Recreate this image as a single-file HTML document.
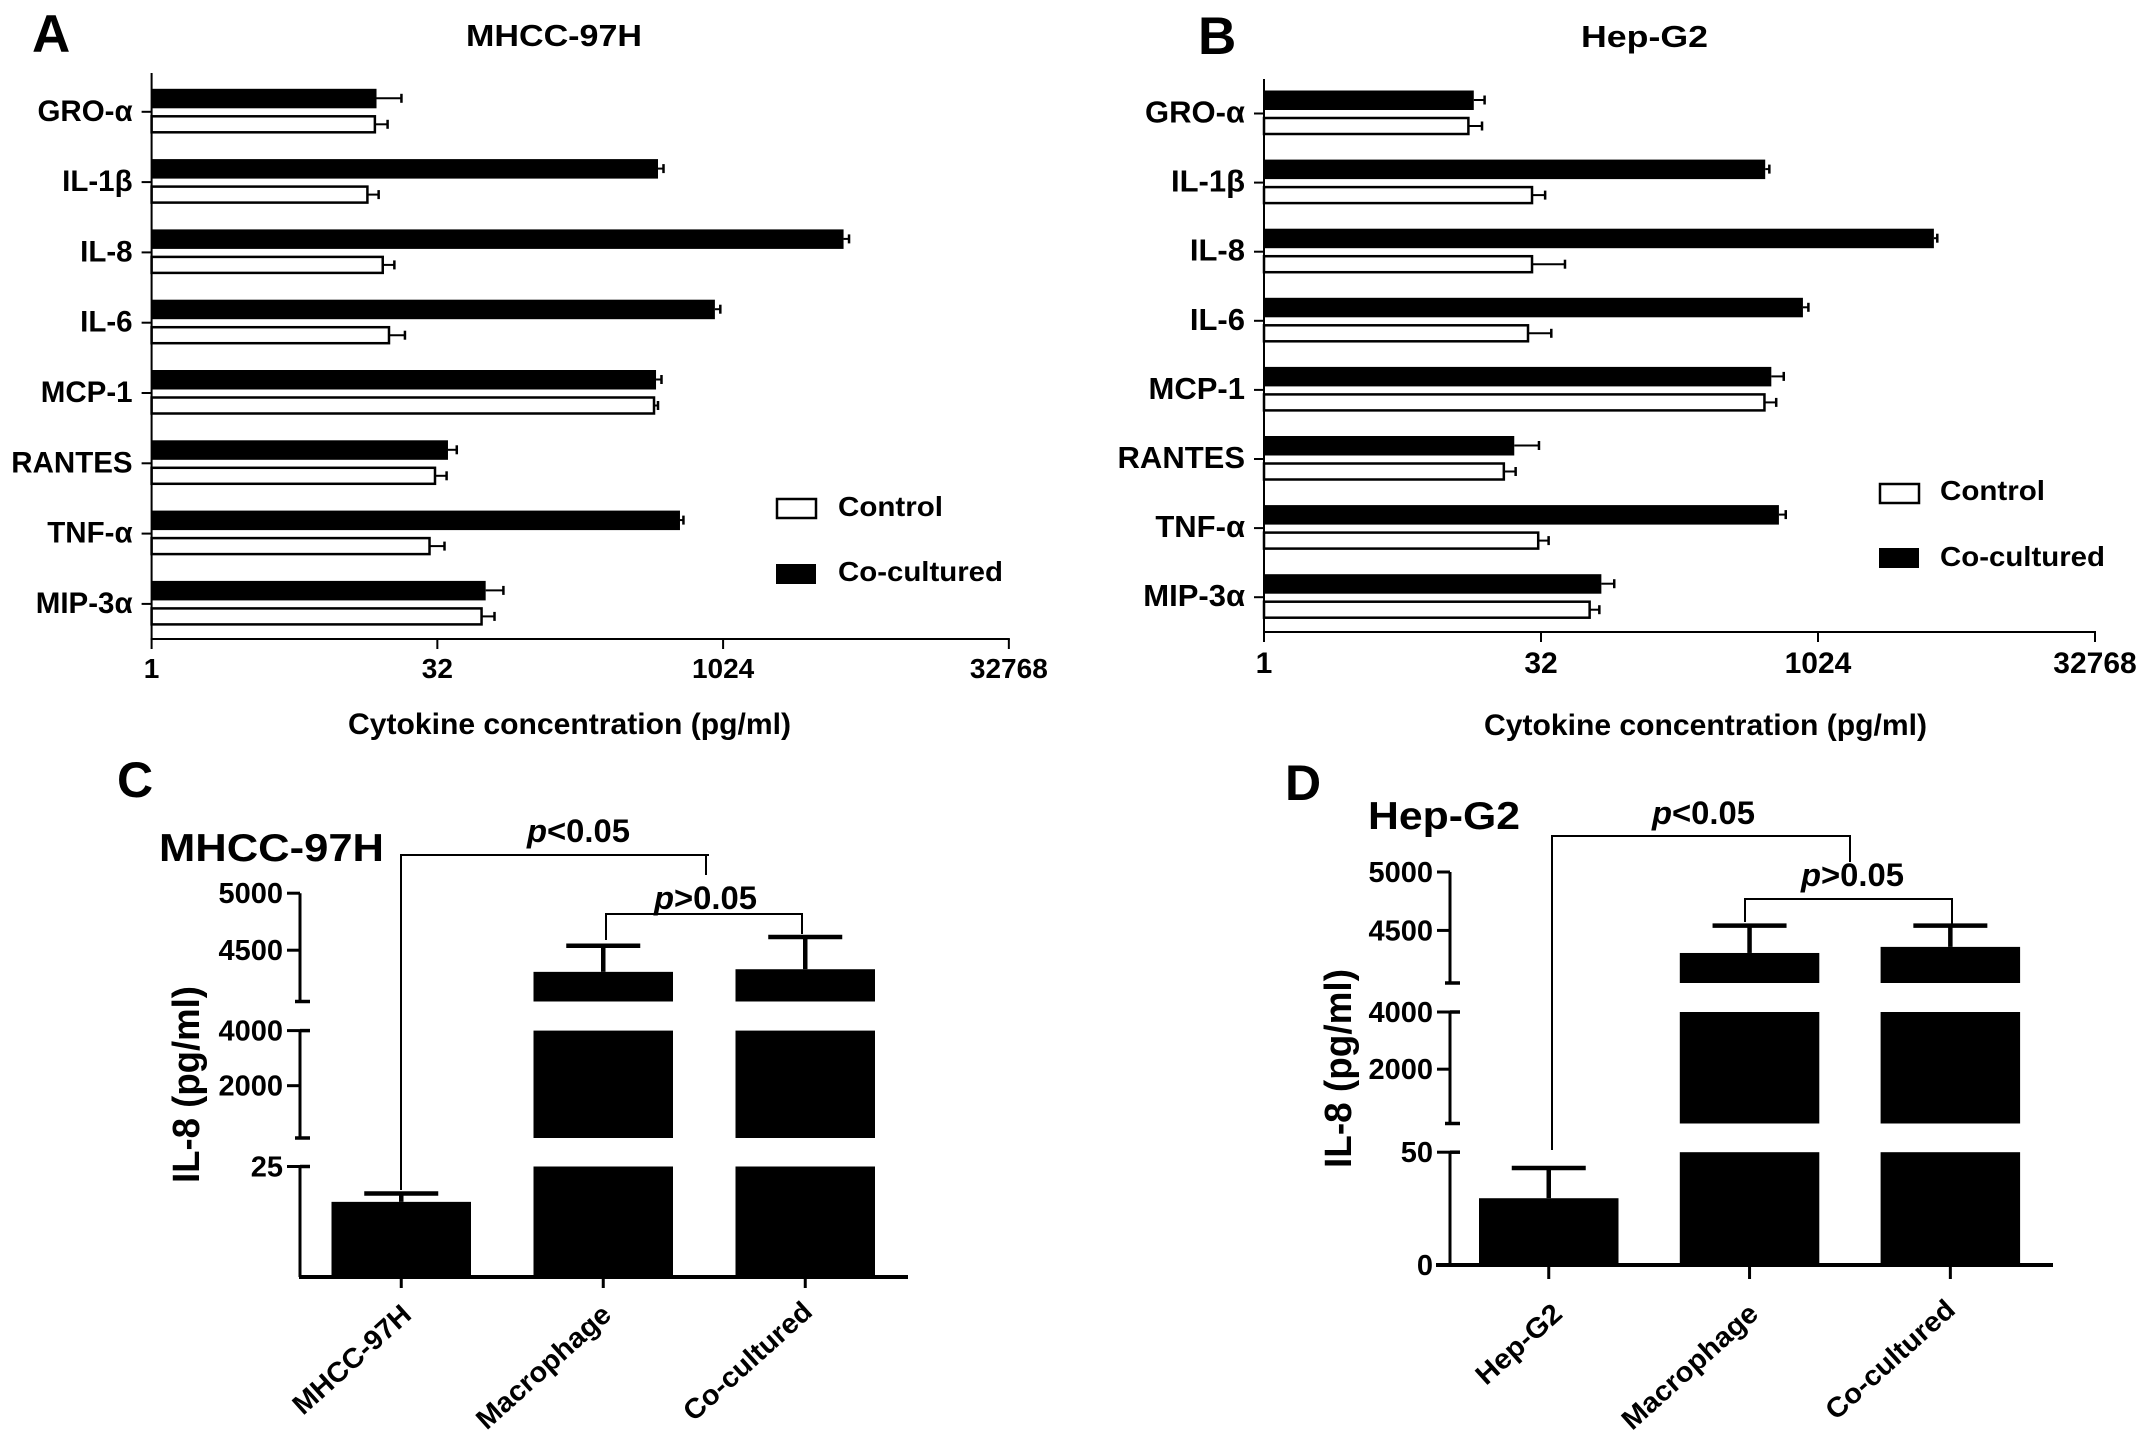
<!DOCTYPE html>
<html lang="en">
<head>
<meta charset="utf-8">
<title>Cytokine concentration and IL-8 charts</title>
<style>
html,body{margin:0;padding:0;background:#fff;}
svg{display:block;}
text{font-family:"Liberation Sans",sans-serif;font-weight:bold;fill:#000;}
</style>
</head>
<body>
<svg id="figure" xmlns="http://www.w3.org/2000/svg" width="2150" height="1444" viewBox="0 0 2150 1444">
  <rect x="0" y="0" width="2150" height="1444" fill="#fff"/>
  <text x="32" y="52" font-size="53">A</text>
  <text x="1198" y="54" font-size="53">B</text>
  <text x="117" y="797" font-size="50">C</text>
  <text x="1285" y="800" font-size="50">D</text>
  <text x="466" y="46" font-size="31" textLength="176" lengthAdjust="spacingAndGlyphs">MHCC-97H</text>
  <text x="1581" y="47" font-size="31" textLength="127" lengthAdjust="spacingAndGlyphs">Hep-G2</text>
  <text x="348" y="734" font-size="30" textLength="443" lengthAdjust="spacingAndGlyphs">Cytokine concentration (pg/ml)</text>
  <text x="1484" y="735" font-size="30" textLength="443" lengthAdjust="spacingAndGlyphs">Cytokine concentration (pg/ml)</text>

  <g>
    <rect x="777" y="499" width="39" height="19" fill="#fff" stroke="#000" stroke-width="2.5"/>
    <text x="838" y="516" font-size="28" textLength="105" lengthAdjust="spacingAndGlyphs">Control</text>
    <rect x="776" y="564" width="40" height="20" fill="#000"/>
    <text x="838" y="581" font-size="28" textLength="165" lengthAdjust="spacingAndGlyphs">Co-cultured</text>
  </g>
  <g>
    <rect x="1880" y="484" width="39" height="19" fill="#fff" stroke="#000" stroke-width="2.5"/>
    <text x="1940" y="500" font-size="28" textLength="105" lengthAdjust="spacingAndGlyphs">Control</text>
    <rect x="1879" y="548" width="40" height="20" fill="#000"/>
    <text x="1940" y="566" font-size="28" textLength="165" lengthAdjust="spacingAndGlyphs">Co-cultured</text>
  </g>

  <text x="159" y="861" font-size="39" textLength="225" lengthAdjust="spacingAndGlyphs">MHCC-97H</text>
  <text x="1368" y="829" font-size="39" textLength="152" lengthAdjust="spacingAndGlyphs">Hep-G2</text>
  <text transform="translate(199,1183) rotate(-90)" font-size="38" textLength="197" lengthAdjust="spacingAndGlyphs">IL-8 (pg/ml)</text>
  <text transform="translate(1351,1168) rotate(-90)" font-size="38" textLength="199" lengthAdjust="spacingAndGlyphs">IL-8 (pg/ml)</text>

  <g fill="none" stroke="#000" stroke-width="2">
    <path d="M401 1190V855H709M706 855V875"/>
    <path d="M606 940V914H802V934"/>
  </g>
  <text x="527" y="842" font-size="32" textLength="103" lengthAdjust="spacingAndGlyphs"><tspan font-style="italic">p</tspan>&lt;0.05</text>
  <text x="654" y="909" font-size="32" textLength="103" lengthAdjust="spacingAndGlyphs"><tspan font-style="italic">p</tspan>&gt;0.05</text>
  <g fill="none" stroke="#000" stroke-width="2">
    <path d="M1552 1150V836H1850V862"/>
    <path d="M1745 922V899H1952V924"/>
  </g>
  <text x="1652" y="824" font-size="32" textLength="103" lengthAdjust="spacingAndGlyphs"><tspan font-style="italic">p</tspan>&lt;0.05</text>
  <text x="1801" y="886" font-size="32" textLength="103" lengthAdjust="spacingAndGlyphs"><tspan font-style="italic">p</tspan>&gt;0.05</text>
</svg>
<script>
// Panels A and B: cytokine categories and values (pg/ml)
const cytokines = ["GRO-α", "IL-1β", "IL-8", "IL-6", "MCP-1", "RANTES", "TNF-α", "MIP-3α"];
const logTicks = [1, 32, 1024, 32768];

const panelACoCultured = [15.3, 465, 4414, 927, 454, 36.4, 607, 57.5];
const panelACoCulturedUpper = [20.7, 497, 4717, 990, 485, 40.5, 633, 71.3];
const panelAControl = [15.0, 13.7, 16.5, 17.8, 443, 31.1, 29.1, 54.7];
const panelAControlUpper = [17.5, 15.7, 19.0, 21.6, 465, 35.8, 34.9, 64];

const panelBCoCultured = [13.8, 529, 4365, 848, 571, 22.9, 628, 68.1];
const panelBCoCulturedUpper = [15.8, 557, 4555, 908, 667, 31.2, 684, 80];
const panelBControl = [12.9, 28.6, 28.6, 27.2, 524, 20.1, 30.9, 58.8];
const panelBControlUpper = [15.3, 33.7, 43.2, 36.4, 607, 23.3, 35.2, 66.4];

// Panels C and D: IL-8 concentration with a broken y axis
const panelCGroups = ["MHCC-97H", "Macrophage", "Co-cultured"];
const panelCValues = [17, 4310, 4333];
const panelCUpper = [18.9, 4539, 4616];
const panelCSegLow = [0, 100, 4050];
const panelCSegHigh = [25, 4000, 5000];
const panelCTicks = [25, 2000, 4000, 4500, 5000];

const panelDGroups = ["Hep-G2", "Macrophage", "Co-cultured"];
const panelDValues = [29.6, 4307, 4359];
const panelDUpper = [43, 4541, 4541];
const panelDSegLow = [0, 100, 4050];
const panelDSegHigh = [50, 4000, 5000];
const panelDTicks = [0, 50, 2000, 4000, 4500, 5000];

const SVGNS = "http://www.w3.org/2000/svg";
const figure = document.getElementById("figure");

function svgEl(tag, attrs, parent) {
  const el = document.createElementNS(SVGNS, tag);
  for (const k in attrs) el.setAttribute(k, attrs[k]);
  parent.appendChild(el);
  return el;
}

function drawLogPanel(id, g0, co, coUp, ctl, ctlUp) {
  const root = svgEl("g", {}, figure);
  
  
  const xScale = v => g0.x0 + Math.log2(v) * g0.perLog2;
  const yCat = i => g0.y0 + i * g0.step;

  cytokines.forEach((name, i) => {
    const c = yCat(i);

    const barCo = svgEl("rect", {x: g0.x0, y: c - 23, width: xScale(co[i]) - g0.x0, height: 19.5, fill: "#000"}, root);
    
    
    const errCoY = c - 13.5;
    const stemCo = svgEl("line", {x1: xScale(co[i]), x2: xScale(coUp[i]), y1: errCoY, y2: errCoY, stroke: "#000", "stroke-width": 2}, root);
    
    
    const capCo = svgEl("line", {x1: xScale(coUp[i]), x2: xScale(coUp[i]), y1: errCoY - 4.5, y2: errCoY + 4.5, stroke: "#000", "stroke-width": 2.5}, root);
    
    

    const barCtl = svgEl("rect", {x: g0.x0, y: c + 4.5, width: xScale(ctl[i]) - g0.x0, height: 16, fill: "#fff", stroke: "#000", "stroke-width": 2.5}, root);
    
    
    const errCtlY = c + 12.5;
    const stemCtl = svgEl("line", {x1: xScale(ctl[i]), x2: xScale(ctlUp[i]), y1: errCtlY, y2: errCtlY, stroke: "#000", "stroke-width": 2}, root);
    
    
    const capCtl = svgEl("line", {x1: xScale(ctlUp[i]), x2: xScale(ctlUp[i]), y1: errCtlY - 4.5, y2: errCtlY + 4.5, stroke: "#000", "stroke-width": 2.5}, root);
    
    

    const tick = svgEl("line", {x1: g0.x0 - 10, x2: g0.x0, y1: c, y2: c, stroke: "#000", "stroke-width": 2}, root);
    
    
    const label = svgEl("text", {x: g0.x0 - 19, y: c + 9, "text-anchor": "end", "font-size": g0.catFont}, root);
    label.textContent = name;
    
    
  });

  const yAxis = svgEl("line", {x1: g0.x0, x2: g0.x0, y1: g0.top, y2: g0.axisY + 1, stroke: "#000", "stroke-width": 2}, root);
  
  
  const xAxis = svgEl("line", {x1: g0.x0 - 1, x2: xScale(logTicks[logTicks.length - 1]) + 1, y1: g0.axisY, y2: g0.axisY, stroke: "#000", "stroke-width": 2}, root);
  
  

  logTicks.forEach(t => {
    const tk = svgEl("line", {x1: xScale(t), x2: xScale(t), y1: g0.axisY, y2: g0.axisY + 10, stroke: "#000", "stroke-width": 2}, root);
    
    
    const lb = svgEl("text", {x: xScale(t), y: g0.labelY, "text-anchor": "middle", "font-size": g0.tickFont}, root);
    lb.textContent = String(t);
    
    
  });
}

function drawBreakPanel(id, g0, groups, values, upper, segLow, segHigh, ticks) {
  const root = svgEl("g", {}, figure);
  
  

  const segOf = v => {
    for (let s = 0; s < segLow.length; s++) if (v >= segLow[s] && v <= segHigh[s]) return s;
    return v > segHigh[segLow.length - 1] ? segLow.length - 1 : 0;
  };
  const yScale = v => {
    const s = segOf(v);
    const t = (v - segLow[s]) / (segHigh[s] - segLow[s]);
    return g0.segBottom[s] + t * (g0.segTop[s] - g0.segBottom[s]);
  };

  groups.forEach((name, i) => {
    const left = g0.barX + i * g0.barStep;
    const mid = left + g0.barW / 2;
    segLow.forEach((low, s) => {
      if (values[i] <= low) return;
      const top = yScale(Math.min(values[i], segHigh[s]));
      const bottom = yScale(low);
      const bar = svgEl("rect", {x: left, y: top, width: g0.barW, height: bottom - top, fill: "#000"}, root);
      
      
    });
    const stem = svgEl("line", {x1: mid, x2: mid, y1: yScale(values[i]), y2: yScale(upper[i]), stroke: "#000", "stroke-width": 4.5}, root);
    
    
    const cap = svgEl("line", {x1: mid - 37, x2: mid + 37, y1: yScale(upper[i]), y2: yScale(upper[i]), stroke: "#000", "stroke-width": 4.5}, root);
    
    

    const tk = svgEl("line", {x1: mid, x2: mid, y1: g0.segBottom[0], y2: g0.segBottom[0] + g0.tickLen, stroke: "#000", "stroke-width": 3}, root);
    
    
    const lb = svgEl("text", {transform: "translate(" + g0.labelEnd[i][0] + "," + g0.labelEnd[i][1] + ") rotate(-42)", "text-anchor": "end", "font-size": 28, textLength: g0.labelLen[i], lengthAdjust: "spacingAndGlyphs"}, root);
    lb.textContent = name;
    
    
  });

  segLow.forEach((low, s) => {
    const ln = svgEl("line", {x1: g0.axisX, x2: g0.axisX, y1: g0.segBottom[s], y2: g0.segTop[s], stroke: "#000", "stroke-width": 3}, root);
    
    
    if (s > 0) {
      const end = svgEl("line", {x1: g0.axisX - 5, x2: g0.axisX + 10, y1: g0.segBottom[s], y2: g0.segBottom[s], stroke: "#000", "stroke-width": 3.5}, root);
      
      
    }
    if (s < segLow.length - 1) {
      const end2 = svgEl("line", {x1: g0.axisX, x2: g0.axisX + 10, y1: g0.segTop[s], y2: g0.segTop[s], stroke: "#000", "stroke-width": 3.5}, root);
      
      
    }
  });

  ticks.forEach(t => {
    const y = yScale(t);
    const tk = svgEl("line", {x1: g0.axisX - 13, x2: g0.axisX, y1: y, y2: y, stroke: "#000", "stroke-width": 3}, root);
    
    
    const lb = svgEl("text", {x: g0.axisX - 17, y: y + 10, "text-anchor": "end", "font-size": 29}, root);
    lb.textContent = String(t);
    
    
  });

  const xAxis = svgEl("line", {x1: g0.axisStart, x2: g0.axisEnd, y1: g0.segBottom[0], y2: g0.segBottom[0], stroke: "#000", "stroke-width": 4}, root);
  
  
}

drawLogPanel("panel-a", {x0: 151.6, perLog2: 57.15, y0: 111.8, step: 70.3, top: 73, axisY: 639, labelY: 678, catFont: 29.5, tickFont: 28},
  panelACoCultured, panelACoCulturedUpper, panelAControl, panelAControlUpper);
drawLogPanel("panel-b", {x0: 1264, perLog2: 55.4, y0: 113.5, step: 69.1, top: 79, axisY: 632, labelY: 673, catFont: 31, tickFont: 30},
  panelBCoCultured, panelBCoCulturedUpper, panelBControl, panelBControlUpper);

drawBreakPanel("panel-c", {
  axisX: 300, axisStart: 299, axisEnd: 908, barX: 331.5, barW: 139.5, barStep: 202, tickLen: 11,
  segBottom: [1277, 1138, 1001.5], segTop: [1166.5, 1030.6, 893.2],
  labelEnd: [[413, 1317], [613, 1317], [814, 1314]], labelLen: [148, 170, 162]
}, panelCGroups, panelCValues, panelCUpper, panelCSegLow, panelCSegHigh, panelCTicks);

drawBreakPanel("panel-d", {
  axisX: 1450, axisStart: 1436, axisEnd: 2053, barX: 1479, barW: 139.5, barStep: 200.8, tickLen: 14,
  segBottom: [1265, 1123.5, 983], segTop: [1152.2, 1012, 872],
  labelEnd: [[1564, 1316], [1760, 1316], [1957, 1312]], labelLen: [105, 172, 163]
}, panelDGroups, panelDValues, panelDUpper, panelDSegLow, panelDSegHigh, panelDTicks);
</script>
</body>
</html>
